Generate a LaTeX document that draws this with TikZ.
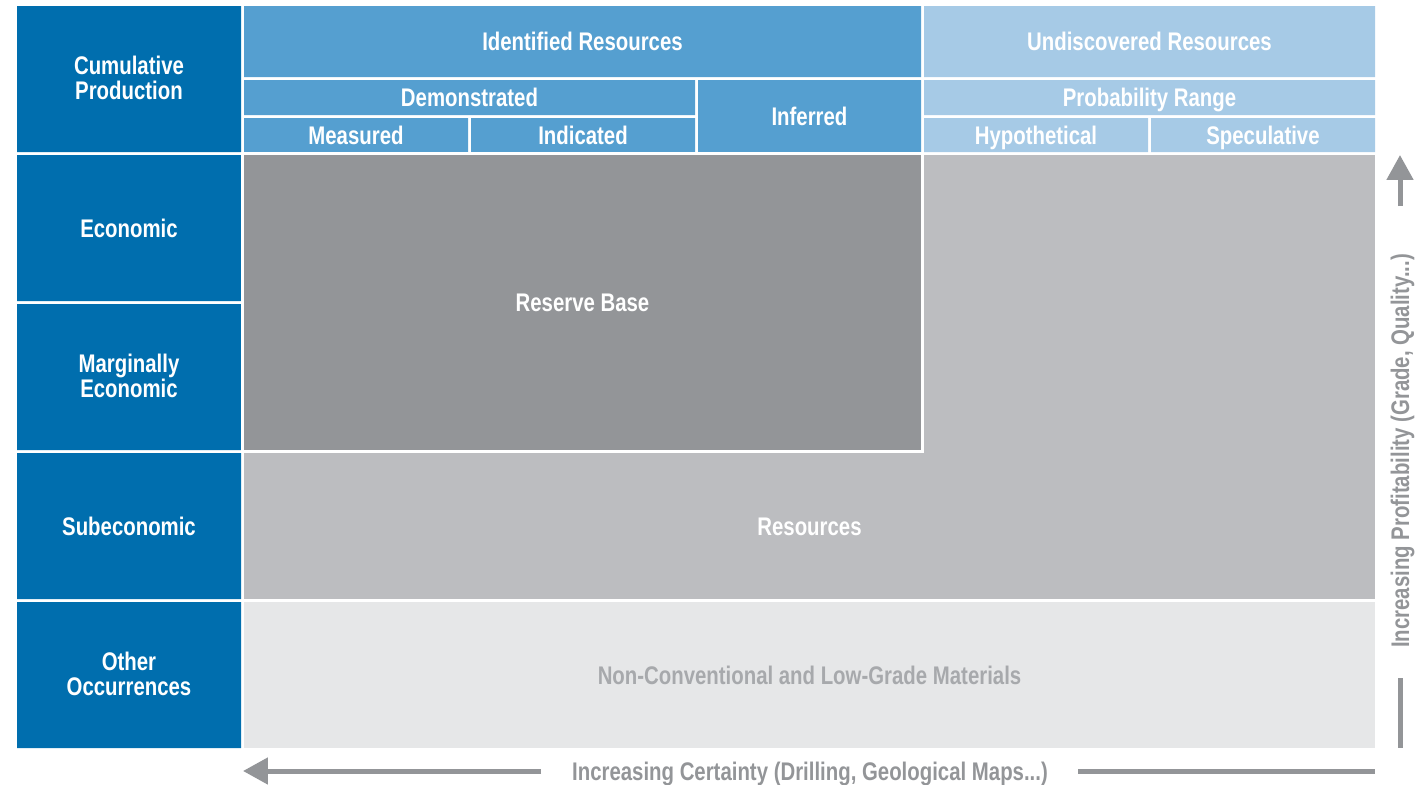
\documentclass[tikz,border=0pt]{standalone}
\usepackage{fontspec}
\setmainfont{Liberation Sans}[FakeStretch=0.8]
\usetikzlibrary{arrows.meta}
\definecolor{rowblue}{RGB}{0,110,174}
\definecolor{midblue}{RGB}{85,159,208}
\definecolor{paleblue}{RGB}{166,202,230}
\definecolor{darkgrey}{RGB}{147,149,152}
\definecolor{midgrey}{RGB}{188,189,192}
\definecolor{palegrey}{RGB}{230,231,232}
\definecolor{textgrey}{RGB}{167,169,172}
\begin{document}
\begin{tikzpicture}[x=0.02cm,y=-0.02cm,line cap=butt,>={Triangle[width=0.52cm,length=0.5cm]}]
\tikzset{lbl/.style={text=white,font=\bfseries\fontsize{14.5}{14}\selectfont,align=center,inner sep=0pt},
  one/.style={lbl,text height=10.4pt,text depth=0pt},
  grylbl/.style={one,text=textgrey},
  axislbl/.style={one,text=darkgrey},
  axis/.style={line width=0.1cm,draw=darkgrey}}
\useasboundingbox (0,0) rectangle (1418,785);
% row headings
\fill[rowblue] (17,6) rectangle (241,152) (17,155) rectangle (241,301) (17,304) rectangle (241,450)
  (17,453) rectangle (241,599) (17,602) rectangle (241,748);
\node[lbl] (cum) at (129,78) {Cumulative\\Production};
\node[one] (econ) at (129,228) {Economic};
\node[lbl] (marg) at (129,376) {Marginally\\Economic};
\node[one] (subecon) at (129,526) {Subeconomic};
\node[lbl] (other) at (129,674) {Other\\Occurrences};
% column headings
\fill[midblue] (244,6) rectangle (921,77) (244,80) rectangle (695,115) (244,118) rectangle (468,152)
  (471,118) rectangle (695,152) (698,80) rectangle (921,152);
\fill[paleblue] (924,6) rectangle (1375,77) (924,80) rectangle (1375,115) (924,118) rectangle (1148,152)
  (1151,118) rectangle (1375,152);
\node[one] (ident) at (582.5,41.5) {Identified Resources};
\node[one] (demo) at (469.5,97.5) {Demonstrated};
\node[one] (meas) at (356,135) {Measured};
\node[one] (indic) at (583,135) {Indicated};
\node[one] (infer) at (809.5,116) {Inferred};
\node[one] (undisc) at (1149.5,41.5) {Undiscovered Resources};
\node[one] (prob) at (1149.5,97.5) {Probability Range};
\node[one] (hypo) at (1036,135) {Hypothetical};
\node[one] (spec) at (1263,135) {Speculative};
% body
\fill[midgrey] (244,155) rectangle (1375,599);
\filldraw[fill=darkgrey,draw=white,line width=0.06cm] (242.5,153.5) rectangle (922.5,451.5);
\fill[palegrey] (244,602) rectangle (1375,748);
\node[one] (resbase) at (582.5,302) {Reserve Base};
\node[one] (res) at (809.5,526) {Resources};
\node[grylbl] (noncon) at (809.5,675) {Non-Conventional and Low-Grade Materials};
% axes
\node[axislbl,rotate=90] (profit) at (1400,451) {Increasing Profitability (Grade, Quality...)};
\node[axislbl] (certain) at (810,771) {Increasing Certainty (Drilling, Geological Maps...)};
\coordinate (vtop) at (1400,155);
\coordinate (vup) at (1400,206);
\coordinate (vlow) at (1400,678);
\coordinate (vbot) at (1400,748);
\coordinate (hleft) at (243,771);
\coordinate (hmidl) at (541,771);
\coordinate (hmidr) at (1078,771);
\coordinate (hright) at (1375,771);
\draw[axis,->] (vup) -- (vtop);
\draw[axis] (vlow) -- (vbot);
\draw[axis,->] (hmidl) -- (hleft);
\draw[axis] (hmidr) -- (hright);
\end{tikzpicture}
\end{document}
